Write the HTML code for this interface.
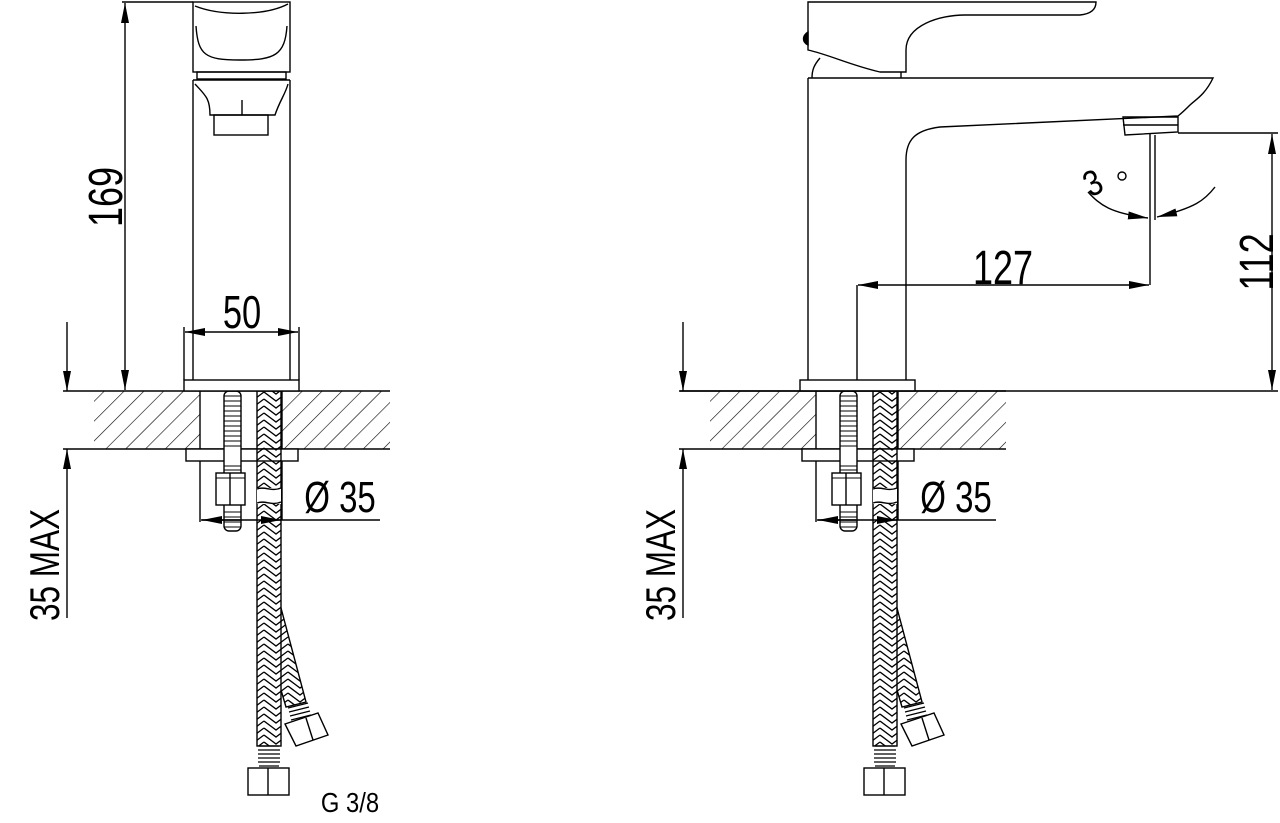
<!DOCTYPE html>
<html><head><meta charset="utf-8"><style>
html,body{margin:0;padding:0;background:#fff;}
svg{display:block;}
text{font-family:"Liberation Sans",sans-serif;fill:#000;}
</style></head><body>
<svg width="1280" height="823" viewBox="0 0 1280 823" xmlns="http://www.w3.org/2000/svg">
<defs>
<pattern id="hatch" patternUnits="userSpaceOnUse" width="14" height="14" patternTransform="rotate(45)">
<line x1="0" y1="0" x2="0" y2="14" stroke="#000" stroke-width="1.2"/>
</pattern>
<pattern id="braid" patternUnits="userSpaceOnUse" width="24" height="14">
<path d="M0 0 L12 9 L24 0 M0 -7 L12 2 L24 -7 M0 7 L12 16 L24 7 M0 14 L12 23 L24 14" fill="none" stroke="#000" stroke-width="1.3"/>
</pattern>
<marker id="ar" viewBox="0 0 20 8" refX="20" refY="4" markerWidth="20" markerHeight="8" markerUnits="userSpaceOnUse" orient="auto">
<path d="M0 0 L20 4 L0 8 Z" fill="#000"/>
</marker>
<g id="under" fill="none" stroke="#000" stroke-width="1.4">
<rect x="94" y="391" width="106" height="58" fill="url(#hatch)" stroke="none"/>
<rect x="282" y="391" width="108" height="58" fill="url(#hatch)" stroke="none"/>
<line x1="63" y1="449" x2="390" y2="449"/>
<line x1="200" y1="391" x2="200" y2="449"/>
<line x1="282" y1="391" x2="282" y2="520"/>
<rect x="186" y="449" width="112" height="12" fill="#fff"/>
<line x1="200" y1="461" x2="200" y2="522"/>
<rect x="224" y="391" width="17" height="140" rx="5" fill="#fff"/>
<path d="M224 396 H241 M224 401 H241 M224 406 H241 M224 411 H241 M224 416 H241 M224 421 H241 M224 426 H241 M224 431 H241 M224 436 H241 M224 441 H241 M224 446 H241 M224 466 H241 M224 470 H241 M224 512 H241 M224 517 H241 M224 522 H241 M224 527 H241" stroke-width="1"/>
<rect x="216" y="473" width="29" height="32" fill="#fff"/>
<line x1="230" y1="473" x2="230" y2="505"/>
<line x1="216" y1="478" x2="245" y2="478" stroke-width="1"/>
<rect x="257" y="391" width="24" height="355" fill="url(#braid)"/>
<rect x="257" y="488" width="24" height="16" fill="#fff" stroke="none"/>
<path d="M257 489 C265 486 272 492 281 488 M257 503 C265 500 272 506 281 502"/>
<path d="M259 746 h20 M258 750 h22 M258 754 h22 M258 758 h22 M258 762 h22 M259 766 h20" stroke-width="1.2"/>
<rect x="248" y="768" width="41" height="27" fill="#fff"/>
<line x1="268" y1="768" x2="268" y2="795"/>
<path d="M281 608 L306 702 L286 707 L281 690" fill="url(#braid)"/>
<path d="M288 708 l20 -5 M289 712 l20 -5 M290 716 l20 -5 M291 720 l20 -5" stroke-width="1.2"/>
<path d="M285 724 L318 713 L328 735 L296 746 Z" fill="#fff"/>
<line x1="306" y1="718" x2="313" y2="740"/>
<line x1="201" y1="520" x2="380" y2="520"/>
<line x1="240" y1="520" x2="202" y2="520" marker-end="url(#ar)"/>
<line x1="262" y1="520" x2="281" y2="520" marker-end="url(#ar)"/>
<line x1="67" y1="322" x2="67" y2="391" marker-end="url(#ar)"/>
<line x1="67" y1="618" x2="67" y2="449" marker-end="url(#ar)"/>
<line x1="63" y1="391" x2="390" y2="391"/>
</g>
</defs>

<use href="#under"/>
<g fill="none" stroke="#000" stroke-width="1.4">
<rect x="193" y="2" width="97" height="70"/>
<path d="M195 6 C220 16 265 16 288 4"/>
<path d="M196 26 C198 55 205 60 240 60 C275 60 285 55 287 26"/>
<rect x="197" y="72" width="89" height="7"/>
<line x1="193" y1="80" x2="193" y2="380"/>
<line x1="290" y1="80" x2="290" y2="380"/>
<path d="M193 80 H290 M195 84 C205 95 210 98 210 115 H275 C280 100 285 95 288 84"/>
<line x1="242" y1="100" x2="242" y2="115"/>
<rect x="214" y="115" width="54" height="20"/>
<rect x="184" y="380" width="115" height="11" fill="#fff"/>
<line x1="184" y1="327" x2="184" y2="380"/>
<line x1="299" y1="327" x2="299" y2="380"/>
<line x1="240" y1="332" x2="185" y2="332" marker-end="url(#ar)"/>
<line x1="240" y1="332" x2="298" y2="332" marker-end="url(#ar)"/>
<line x1="122" y1="2" x2="193" y2="2"/>
<line x1="125" y1="200" x2="125" y2="3" marker-end="url(#ar)"/>
<line x1="125" y1="200" x2="125" y2="390" marker-end="url(#ar)"/>
</g>
<text transform="translate(122,197) rotate(-90) scale(0.75,1)" font-size="48" text-anchor="middle">169</text>
<text transform="translate(242,328) scale(0.75,1)" font-size="46" text-anchor="middle">50</text>
<text transform="translate(59,565) rotate(-90) scale(0.75,1)" font-size="42" text-anchor="middle">35 MAX</text>
<text transform="translate(340,512) scale(0.75,1)" font-size="44" text-anchor="middle">Ø 35</text>
<text transform="translate(350,812) scale(0.85,1)" font-size="28" text-anchor="middle">G 3/8</text>

<use href="#under" transform="translate(616,0)"/>
<g fill="none" stroke="#000" stroke-width="1.4">
<path d="M808 2 H1096 C1096 10 1090 14 1080 15 H965 C940 15 906 25 906 50 V72 H880 C850 65 830 55 808 50 Z"/>
<path d="M808 32 C802 36 802 42 808 45 Z" fill="#000"/>
<path d="M820 58 C814 65 812 70 812 78 M901 72 V78"/>
<path d="M808 78 H1213 C1205 95 1195 100 1190 105 C1185 110 1183 112 1178 116 L940 127 C915 130 906 140 906 160 V380"/>
<line x1="808" y1="78" x2="808" y2="380"/>
<path d="M1123 117 H1178 V132 L1125 135 Z M1123 125 H1178"/>
<rect x="800" y="380" width="115" height="11" fill="#fff"/>
<line x1="680" y1="391" x2="1278" y2="391"/>
<line x1="1178" y1="133" x2="1278" y2="133"/>
<line x1="1272" y1="260" x2="1272" y2="134" marker-end="url(#ar)"/>
<line x1="1272" y1="260" x2="1272" y2="390" marker-end="url(#ar)"/>
<line x1="857" y1="285" x2="857" y2="380"/>
<line x1="1150" y1="133" x2="1150" y2="285"/>
<line x1="1155" y1="135" x2="1155" y2="220"/>
<line x1="1000" y1="285" x2="858" y2="285" marker-end="url(#ar)"/>
<line x1="1000" y1="285" x2="1149" y2="285" marker-end="url(#ar)"/>
<path d="M1088 192 C1100 205 1110 213 1148 218" marker-end="url(#ar)"/>
<path d="M1215 187 C1205 200 1195 208 1157 217" marker-end="url(#ar)"/>
<circle cx="1122" cy="176" r="4"/>
</g>
<text transform="translate(1003,284) scale(0.75,1)" font-size="48" text-anchor="middle">127</text>
<text transform="translate(1273,262) rotate(-90) scale(0.75,1)" font-size="48" text-anchor="middle">112</text>
<text transform="translate(1098,194) rotate(-25) scale(0.85,1)" font-size="36" text-anchor="middle">3</text>
<text transform="translate(675,565) rotate(-90) scale(0.75,1)" font-size="42" text-anchor="middle">35 MAX</text>
<text transform="translate(956,512) scale(0.75,1)" font-size="44" text-anchor="middle">Ø 35</text>
</svg>
</body></html>
